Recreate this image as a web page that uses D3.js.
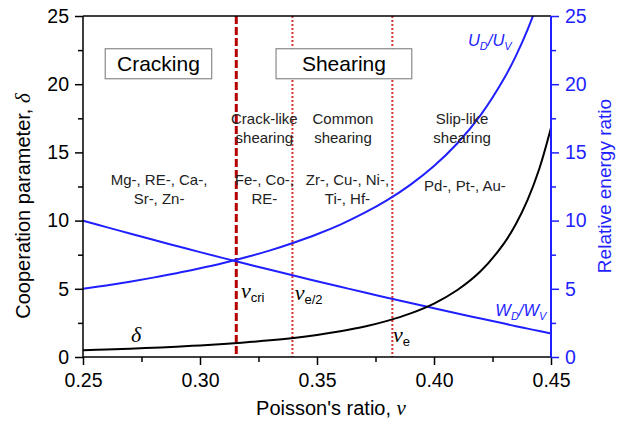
<!DOCTYPE html>
<html>
<head>
<meta charset="utf-8">
<script src="https://cdn.jsdelivr.net/npm/d3@7"></script>
<style>
	body { margin: 0; background: #fff; }
	text { font-family: 'Liberation Sans', Arial, sans-serif; }
	.serif { font-family: 'Liberation Serif', 'Times New Roman', serif; font-style: italic; }
</style>
</head>
<body>
<svg width="617" height="425"></svg>
<script>
/* global d3 */

/////////////////////////////////////////////////////////////////////////
// data

var nu = [0.25, 0.26, 0.27, 0.28, 0.29, 0.30, 0.31, 0.32, 0.33, 0.34, 0.35,
	0.36, 0.37, 0.38, 0.39, 0.40, 0.41, 0.42, 0.43, 0.435, 0.44, 0.445, 0.45]
var delta = [0.50, 0.55, 0.61, 0.68, 0.75, 0.85, 0.95, 1.08, 1.22, 1.40, 1.62,
	1.89, 2.22, 2.65, 3.20, 3.92, 4.91, 6.30, 8.35, 9.75, 11.52, 13.8, 16.8]
var udUv = [5.0, 5.25, 5.52, 5.82, 6.14, 6.5, 6.89, 7.33, 7.82, 8.38, 9.0,
	9.71, 10.54, 11.5, 12.64, 14.0, 15.67, 17.75, 20.43, 22.08, 24.0, 26.3, 29.0]
var wdWv = [10.0, 9.52, 9.06, 8.59, 8.14, 7.69, 7.25, 6.82, 6.39, 5.97, 5.56,
	5.15, 4.74, 4.35, 3.96, 3.57, 3.19, 2.82, 2.45, 2.26, 2.08, 1.90, 1.72]

var xTicks = [0.25, 0.30, 0.35, 0.40, 0.45]
var yTicks = [0, 5, 10, 15, 20, 25]
var nuCri = 0.3155, nuE2 = 0.3395, nuE = 0.3822

var regions = [
	{x: 0.2825, v: 12.6, lines: ['Mg-, RE-, Ca-,', 'Sr-, Zn-']},
	{x: 0.3275, v: 12.6, lines: ['Fe-, Co-,', 'RE-']},
	{x: 0.3630, v: 12.6, lines: ['Zr-, Cu-, Ni-,', 'Ti-, Hf-']},
	{x: 0.4132, v: 12.2, lines: ['Pd-, Pt-, Au-']}
]
var modes = [
	{x: 0.3275, v: 17.1, lines: ['Crack-like', 'shearing']},
	{x: 0.3611, v: 17.1, lines: ['Common', 'shearing']},
	{x: 0.4120, v: 17.1, lines: ['Slip-like', 'shearing']}
]

/////////////////////////////////////////////////////////////////////////
// frame

var blue = '#1f1fff'
var svg = d3.select('svg'),
	margin = {top: 16, right: 66, bottom: 68, left: 83},
	width = +svg.attr('width') - margin.left - margin.right,
	height = +svg.attr('height') - margin.top - margin.bottom,
	g = svg.append('g').attr('transform', 'translate(' + margin.left + ',' + margin.top + ')')

var x = d3.scaleLinear().domain([0.25, 0.45]).range([0, width])
var y = d3.scaleLinear().domain([0, 25]).range([height, 0])

svg.append('defs').append('clipPath').attr('id', 'clip')
	.append('rect').attr('width', width).attr('height', height)

var plot = g.append('g').attr('clip-path', 'url(#clip)')

// vertical markers
function vline(v, color, w, dash) {
	plot.append('line')
		.attr('x1', x(v)).attr('x2', x(v)).attr('y1', 0).attr('y2', height)
		.attr('stroke', color).attr('stroke-width', w).attr('stroke-dasharray', dash)
}
vline(nuCri, '#b40000', 3, '8,3')
vline(nuE2, '#d43434', 2, '2,2')
vline(nuE, '#d43434', 2, '2,2')

// curves
function curve(vals, color) {
	var line = d3.line()
		.x(function(d, i) { return x(nu[i]) })
		.y(function(d) { return y(d) })
		.curve(d3.curveCatmullRom)
	plot.append('path').datum(vals)
		.attr('d', line).attr('fill', 'none')
		.attr('stroke', color).attr('stroke-width', 2)
}
curve(wdWv, blue)
curve(udUv, blue)
curve(delta, '#000')

/////////////////////////////////////////////////////////////////////////
// axes

function minorTicks(lo, hi, step) {
	var t = []
	for (var v = lo; v <= hi + 1e-9; v += step) t.push(+v.toFixed(4))
	return t
}

g.append('g')
	.attr('transform', 'translate(0,' + height + ')')
	.call(d3.axisBottom(x).tickValues(minorTicks(0.275, 0.425, 0.05)).tickSize(5).tickFormat(''))
g.append('g').call(d3.axisLeft(y).tickValues(minorTicks(2.5, 22.5, 5)).tickSize(5).tickFormat(''))
g.append('g').attr('class', 'right').attr('transform', 'translate(' + width + ',0)')
	.call(d3.axisRight(y).tickValues(minorTicks(2.5, 22.5, 5)).tickSize(5).tickFormat(''))

var xAxis = g.append('g')
	.attr('transform', 'translate(0,' + height + ')')
	.call(d3.axisBottom(x).tickValues(xTicks).tickSize(8).tickPadding(5).tickFormat(d3.format('.2f')))
g.append('g')
	.call(d3.axisLeft(y).tickValues(yTicks).tickSize(8).tickPadding(6))
var y2Axis = g.append('g').attr('class', 'right')
	.attr('transform', 'translate(' + width + ',0)')
	.call(d3.axisRight(y).tickValues(yTicks).tickSize(8).tickPadding(6))

g.selectAll('.domain').remove()
g.selectAll('.tick line').attr('stroke-width', 1.5)
g.selectAll('.right .tick line').attr('stroke', blue)
g.selectAll('.tick text').attr('font-size', 19.5).attr('font-family', "'Liberation Sans', Arial, sans-serif").attr('fill', '#000')
y2Axis.selectAll('.tick text').attr('fill', blue)
xAxis.selectAll('.tick text').attr('dy', '0.85em')

// frame lines
g.append('line').attr('x1', 0).attr('x2', width).attr('y1', 0).attr('y2', 0).attr('stroke', '#000').attr('stroke-width', 1.5)
g.append('line').attr('x1', 0).attr('x2', width).attr('y1', height).attr('y2', height).attr('stroke', '#000').attr('stroke-width', 1.5)
g.append('line').attr('x1', 0).attr('x2', 0).attr('y1', 0).attr('y2', height).attr('stroke', '#000').attr('stroke-width', 1.5)
g.append('line').attr('x1', width).attr('x2', width).attr('y1', 0).attr('y2', height).attr('stroke', blue).attr('stroke-width', 2)

/////////////////////////////////////////////////////////////////////////
// axis titles

var xt = svg.append('text').attr('x', 331).attr('y', 415)
	.attr('text-anchor', 'middle').attr('font-size', 20)
xt.append('tspan').text('Poisson\'s ratio, ')
xt.append('tspan').attr('class', 'serif').attr('font-size', 21).text('ν')

var yt = svg.append('text').attr('transform', 'translate(30,206) rotate(-90)')
	.attr('text-anchor', 'middle').attr('font-size', 20)
yt.append('tspan').text('Cooperation parameter, ')
yt.append('tspan').attr('class', 'serif').attr('font-size', 21).text('δ')

svg.append('text').attr('transform', 'translate(611,186) rotate(-90)')
	.attr('text-anchor', 'middle').attr('font-size', 19).attr('fill', blue)
	.text('Relative energy ratio')

/////////////////////////////////////////////////////////////////////////
// annotations

function box(label, x0, x1) {
	g.append('rect').attr('x', x(x0)).attr('y', y(22.6)).attr('width', x(x1) - x(x0)).attr('height', y(20.4) - y(22.6))
		.attr('fill', '#fff').attr('stroke', '#8a8a8a').attr('stroke-width', 1.2)
	g.append('text').attr('x', (x(x0) + x(x1)) / 2).attr('y', y(21.5)).attr('dy', '0.36em')
		.attr('text-anchor', 'middle').attr('font-size', 21).text(label)
}
box('Cracking', 0.2595, 0.305)
box('Shearing', 0.3325, 0.3905)

function block(items, size) {
	items.forEach(function(d) {
		var t = g.append('text').attr('x', x(d.x)).attr('y', y(d.v))
			.attr('text-anchor', 'middle').attr('font-size', size).attr('fill', '#222')
		d.lines.forEach(function(s, i) {
			t.append('tspan').attr('x', x(d.x)).attr('dy', i ? '1.25em' : 0).text(s)
		})
	})
}
block(modes, 15)
block(regions, 15)

function sym(v, val, main, sub) {
	var t = g.append('text').attr('x', x(v)).attr('y', y(val)).attr('fill', '#000').attr('font-size', 22)
	t.append('tspan').attr('class', 'serif').text(main)
	t.append('tspan').attr('dy', 4).attr('font-size', 13).text(sub)
}
sym(0.3175, 4.3, 'ν', 'cri')
sym(0.3405, 4.2, 'ν', 'e/2')
sym(0.3825, 1.1, 'ν', 'e')

function ratio(v, val, a) {
	var t = g.append('text').attr('x', x(v)).attr('y', y(val)).attr('fill', blue).attr('font-size', 16.5)
		.attr('font-style', 'italic')
	t.append('tspan').text(a)
	t.append('tspan').attr('dy', 4).attr('font-size', 11).text('D')
	t.append('tspan').attr('dy', -4).text('/' + a)
	t.append('tspan').attr('dy', 4).attr('font-size', 11).text('V')
}
ratio(0.4145, 22.8, 'U')
ratio(0.4262, 3.0, 'W')

g.append('text').attr('class', 'serif').attr('x', x(0.2705)).attr('y', y(1.1))
	.attr('font-size', 22).text('δ')
</script>
</body>
</html>
